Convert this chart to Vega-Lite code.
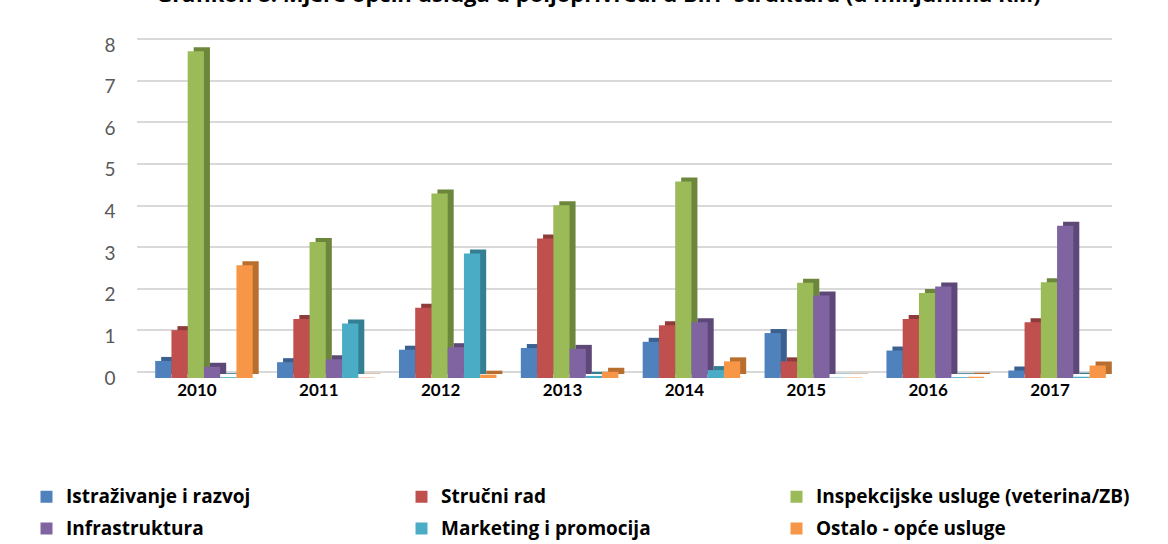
{
  "$schema": "https://vega.github.io/schema/vega-lite/v6.json",
  "autosize": "none",
  "width": 975,
  "height": 333,
  "padding": {"left": 143, "top": 45, "right": 50, "bottom": 166},
  "background": "white",
  "title": {
    "text": "Grafikon 8: Mjere općih usluga u poljoprivredi u BiH- struktura (u milijunima KM)",
    "font": "Open Sans", "fontSize": 22, "fontWeight": "bold", "color": "#000000",
    "anchor": "middle", "dx": -32, "dy": -25
  },
  "data": {"values": [
    {"year": "2010", "series": "Istraživanje i razvoj", "value": 0.41},
    {"year": "2010", "series": "Stručni rad", "value": 1.15},
    {"year": "2010", "series": "Inspekcijske usluge (veterina/ZB)", "value": 7.85},
    {"year": "2010", "series": "Infrastruktura", "value": 0.27},
    {"year": "2010", "series": "Marketing i promocija", "value": 0.02},
    {"year": "2010", "series": "Ostalo - opće usluge", "value": 2.71},
    {"year": "2011", "series": "Istraživanje i razvoj", "value": 0.38},
    {"year": "2011", "series": "Stručni rad", "value": 1.42},
    {"year": "2011", "series": "Inspekcijske usluge (veterina/ZB)", "value": 3.27},
    {"year": "2011", "series": "Infrastruktura", "value": 0.45},
    {"year": "2011", "series": "Marketing i promocija", "value": 1.31},
    {"year": "2011", "series": "Ostalo - opće usluge", "value": 0.01},
    {"year": "2012", "series": "Istraživanje i razvoj", "value": 0.68},
    {"year": "2012", "series": "Stručni rad", "value": 1.69},
    {"year": "2012", "series": "Inspekcijske usluge (veterina/ZB)", "value": 4.43},
    {"year": "2012", "series": "Infrastruktura", "value": 0.74},
    {"year": "2012", "series": "Marketing i promocija", "value": 2.99},
    {"year": "2012", "series": "Ostalo - opće usluge", "value": 0.08},
    {"year": "2013", "series": "Istraživanje i razvoj", "value": 0.72},
    {"year": "2013", "series": "Stručni rad", "value": 3.35},
    {"year": "2013", "series": "Inspekcijske usluge (veterina/ZB)", "value": 4.15},
    {"year": "2013", "series": "Infrastruktura", "value": 0.70},
    {"year": "2013", "series": "Marketing i promocija", "value": 0.05},
    {"year": "2013", "series": "Ostalo - opće usluge", "value": 0.15},
    {"year": "2014", "series": "Istraživanje i razvoj", "value": 0.87},
    {"year": "2014", "series": "Stručni rad", "value": 1.27},
    {"year": "2014", "series": "Inspekcijske usluge (veterina/ZB)", "value": 4.72},
    {"year": "2014", "series": "Infrastruktura", "value": 1.34},
    {"year": "2014", "series": "Marketing i promocija", "value": 0.19},
    {"year": "2014", "series": "Ostalo - opće usluge", "value": 0.40},
    {"year": "2015", "series": "Istraživanje i razvoj", "value": 1.08},
    {"year": "2015", "series": "Stručni rad", "value": 0.40},
    {"year": "2015", "series": "Inspekcijske usluge (veterina/ZB)", "value": 2.29},
    {"year": "2015", "series": "Infrastruktura", "value": 1.98},
    {"year": "2015", "series": "Marketing i promocija", "value": 0.01},
    {"year": "2015", "series": "Ostalo - opće usluge", "value": 0.01},
    {"year": "2016", "series": "Istraživanje i razvoj", "value": 0.66},
    {"year": "2016", "series": "Stručni rad", "value": 1.42},
    {"year": "2016", "series": "Inspekcijske usluge (veterina/ZB)", "value": 2.04},
    {"year": "2016", "series": "Infrastruktura", "value": 2.20},
    {"year": "2016", "series": "Marketing i promocija", "value": 0.02},
    {"year": "2016", "series": "Ostalo - opće usluge", "value": 0.03},
    {"year": "2017", "series": "Istraživanje i razvoj", "value": 0.18},
    {"year": "2017", "series": "Stručni rad", "value": 1.34},
    {"year": "2017", "series": "Inspekcijske usluge (veterina/ZB)", "value": 2.30},
    {"year": "2017", "series": "Infrastruktura", "value": 3.66},
    {"year": "2017", "series": "Marketing i promocija", "value": 0.03},
    {"year": "2017", "series": "Ostalo - opće usluge", "value": 0.30}
  ]},
  "encoding": {
    "x": {
      "field": "year", "type": "nominal", "title": null,
      "scale": {"paddingInner": 0.2, "paddingOuter": 0.1},
      "axis": {"labelAngle": 0, "ticks": false, "domain": false, "grid": false,
               "labelFont": "Lato", "labelFontSize": 17, "labelFontWeight": "bold",
               "labelColor": "#000000", "labelPadding": 4, "labelOffset": -7}
    }
  },
  "layer": [
    {
      "mark": {"type": "bar", "yOffset": -4},
      "encoding": {
        "xOffset": {
          "field": "series", "type": "nominal",
          "scale": {"domain": ["Istraživanje i razvoj", "Stručni rad", "Inspekcijske usluge (veterina/ZB)", "Infrastruktura", "Marketing i promocija", "Ostalo - opće usluge"],
                    "range": [6, 103.5]}
        },
        "y": {"field": "value", "type": "quantitative", "title": null,
              "scale": {"domain": [0, 8], "nice": false},
              "axis": {"orient": "left", "grid": true, "labels": false, "ticks": false, "domain": false,
                       "gridColor": "#D9D9D9", "gridWidth": 2, "translate": -6, "values": [0,1,2,3,4,5,6,7,8]}},
        "color": {
          "field": "series", "type": "nominal", "legend": null,
          "scale": {"domain": ["Istraživanje i razvoj", "Stručni rad", "Inspekcijske usluge (veterina/ZB)", "Infrastruktura", "Marketing i promocija", "Ostalo - opće usluge"],
                    "range": ["#3A6090", "#8E3B39", "#6C873B", "#5D4878", "#357F93", "#B86E2F"]}
        }
      }
    },
    {
      "mark": {"type": "bar"},
      "encoding": {
        "xOffset": {
          "field": "series", "type": "nominal",
          "scale": {"domain": ["Istraživanje i razvoj", "Stručni rad", "Inspekcijske usluge (veterina/ZB)", "Infrastruktura", "Marketing i promocija", "Ostalo - opće usluge"]}
        },
        "y": {"field": "value", "type": "quantitative", "title": null,
              "scale": {"domain": [0, 8], "nice": false},
              "axis": {"orient": "left", "grid": false, "ticks": false, "domain": false,
                       "values": [0,1,2,3,4,5,6,7,8],
                       "labelFont": "Lato", "labelFontSize": 19, "labelColor": "#595959", "labelPadding": 28}},
        "color": {
          "field": "series", "type": "nominal", "title": null,
          "scale": {"domain": ["Istraživanje i razvoj", "Stručni rad", "Inspekcijske usluge (veterina/ZB)", "Infrastruktura", "Marketing i promocija", "Ostalo - opće usluge"],
                    "range": ["#4F81BD", "#C0504D", "#9BBB59", "#8064A2", "#4BACC6", "#F79646"]},
          "legend": {
            "orient": "none", "legendX": -106, "legendY": 442, "direction": "horizontal",
            "columns": 3, "gridAlign": "all", "columnPadding": 32, "rowPadding": 12,
            "symbolType": "square", "symbolSize": 144, "symbolStrokeWidth": 0,
            "labelFont": "Open Sans", "labelFontSize": 19, "labelFontWeight": "bold", "labelColor": "#000000",
            "labelOffset": 10, "labelLimit": 500
          }
        }
      }
    }
  ],
  "resolve": {"scale": {"color": "independent", "xOffset": "independent"}, "axis": {"y": "independent"}},
  "config": {"view": {"stroke": null}}
}
